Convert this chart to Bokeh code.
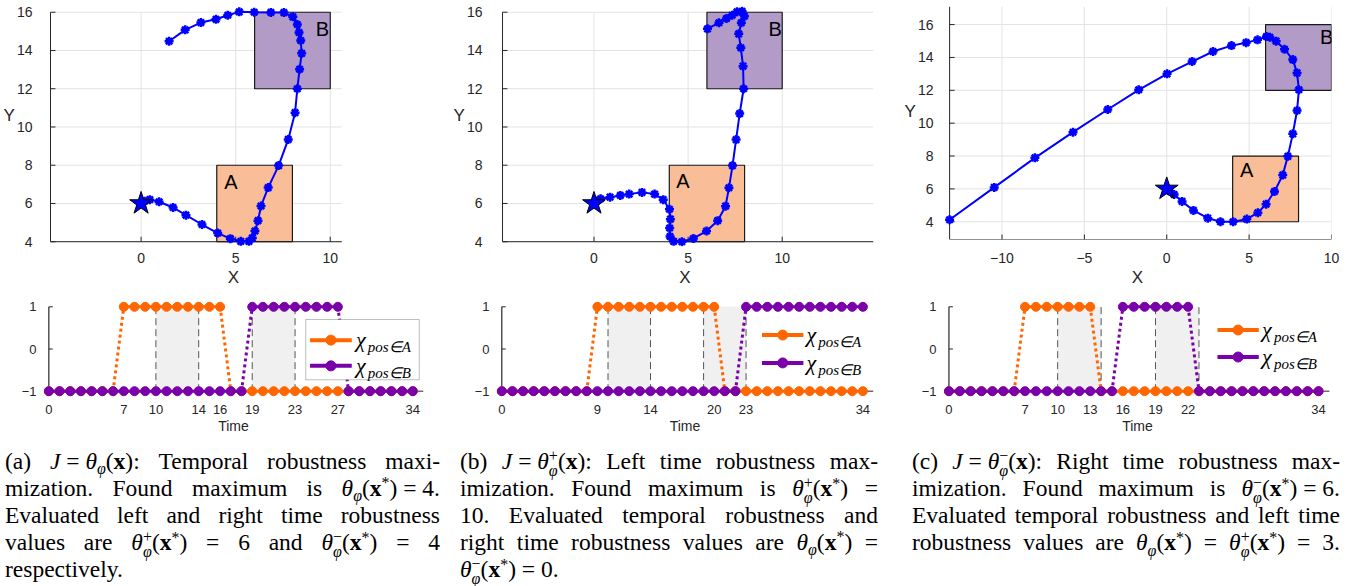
from bokeh.plotting import figure
from bokeh.layouts import row, column
from bokeh.models import Range1d, FixedTicker, Div, BoxAnnotation
from bokeh.core.properties import value
from bokeh.embed import file_html
from bokeh.resources import INLINE

# ---------------- data ----------------
TIME = list(range(35))

REGION_A = (4, 8, 4, 8)      # x0, x1, y0, y1
REGION_B = (6, 10, 12, 16)
START = (0, 6)

# (a) temporal robustness maximisation
A_X = [0, 0.18, 0.46, 0.95, 1.69, 2.37, 3.22, 4.05, 4.72, 5.27, 5.70, 5.88, 6.02, 6.18, 6.34,
       6.72, 7.27, 7.78, 8.14, 8.26, 8.38, 8.49, 8.44, 8.35, 8.26, 8.02, 7.55, 6.86, 5.98, 5.19,
       4.58, 3.96, 3.16, 2.33, 1.48]
A_Y = [6.0, 6.12, 6.20, 6.09, 5.79, 5.39, 4.90, 4.45, 4.16, 4.02, 4.02, 4.20, 4.56, 5.10, 5.87,
       6.83, 7.98, 9.35, 10.75, 12.0, 13.02, 13.85, 14.52, 14.94, 15.36, 15.76, 15.98, 15.99, 16.0,
       16.02, 15.84, 15.63, 15.46, 15.08, 14.48]
# (b) left time robustness maximisation
B_X = [0, 0.15, 0.35, 0.85, 1.40, 1.87, 2.55, 3.22, 3.68, 4.01, 4.06, 4.02, 4.04, 4.23, 4.67,
       5.28, 5.98, 6.57, 6.99, 7.17, 7.36, 7.55, 7.74, 7.95, 7.92, 7.80, 7.69, 7.83, 7.99, 7.87,
       7.60, 7.34, 7.04, 6.64, 6.03]
B_Y = [6.0, 6.12, 6.25, 6.33, 6.42, 6.49, 6.58, 6.49, 6.20, 5.70, 5.18, 4.72, 4.27, 4.02, 4.00,
       4.17, 4.56, 5.10, 5.86, 6.82, 7.98, 9.34, 10.70, 12.0, 13.18, 14.14, 14.87, 15.45, 15.79,
       16.05, 16.02, 15.84, 15.67, 15.45, 15.13]
# (c) right time robustness maximisation
C_X = [0, 0.18, 0.45, 0.93, 1.62, 2.49, 3.26, 4.03, 4.86, 5.53, 6.03, 6.54, 7.04, 7.35, 7.65,
       7.91, 8.02, 7.91, 7.65, 7.15, 6.64, 6.26, 6.05, 5.51, 4.82, 3.93, 2.81, 1.54, 0.02, -1.70,
       -3.58, -5.69, -8.00, -10.47, -13.18]
C_Y = [6.0, 5.86, 5.66, 5.24, 4.69, 4.22, 4.00, 4.00, 4.16, 4.55, 5.07, 5.84, 6.84, 7.98, 9.35,
       10.77, 12.03, 13.06, 13.87, 14.50, 14.99, 15.23, 15.27, 15.07, 14.90, 14.72, 14.36, 13.75,
       13.00, 12.03, 10.83, 9.45, 7.89, 6.09, 4.12]

CHI_A_a = [-1, -1, -1, -1, -1, -1, -1, 1, 1, 1, 1, 1, 1, 1, 1, 1, 1, -1, -1, -1, -1, -1, -1, -1,
           -1, -1, -1, -1, -1, -1, -1, -1, -1, -1, -1]
CHI_B_a = [-1, -1, -1, -1, -1, -1, -1, -1, -1, -1, -1, -1, -1, -1, -1, -1, -1, -1, -1, 1, 1, 1,
           1, 1, 1, 1, 1, 1, -1, -1, -1, -1, -1, -1, -1]
CHI_A_b = [-1, -1, -1, -1, -1, -1, -1, -1, -1, 1, 1, 1, 1, 1, 1, 1, 1, 1, 1, 1, 1, -1, -1, -1,
           -1, -1, -1, -1, -1, -1, -1, -1, -1, -1, -1]
CHI_B_b = [-1, -1, -1, -1, -1, -1, -1, -1, -1, -1, -1, -1, -1, -1, -1, -1, -1, -1, -1, -1, -1,
           -1, -1, 1, 1, 1, 1, 1, 1, 1, 1, 1, 1, 1, 1]
CHI_A_c = [-1, -1, -1, -1, -1, -1, -1, 1, 1, 1, 1, 1, 1, 1, -1, -1, -1, -1, -1, -1, -1, -1, -1,
           -1, -1, -1, -1, -1, -1, -1, -1, -1, -1, -1, -1]
CHI_B_c = [-1, -1, -1, -1, -1, -1, -1, -1, -1, -1, -1, -1, -1, -1, -1, -1, 1, 1, 1, 1, 1, 1, 1,
           -1, -1, -1, -1, -1, -1, -1, -1, -1, -1, -1, -1]

WINDOWS = [(10, 14), (19, 23)]
TICKS_a = [0, 7, 10, 14, 16, 19, 23, 27, 34]
TICKS_b = [0, 9, 14, 20, 23, 34]
TICKS_c = [0, 7, 10, 13, 16, 19, 22, 34]
T_MAX = 35

XT_ab = [0, 5, 10]
XT_c = [-10, -5, 0, 5, 10]
YT = [4, 6, 8, 10, 12, 14, 16]
CHI_Y_TICKS = [-1, 0, 1]

# ---------------- style ----------------
SANS = "Liberation Sans"
SERIF = "Liberation Serif"
AX = "#262626"
GRID = "#E3E3E3"
BLUE = "#0000FF"
ORANGE = "#FF6600"
PURPLE = "#7A00AA"
A_FILL = "#F9BD98"
B_FILL = "#B39BC8"


def style_axis(ax, tick_size="14px", label_size="17px"):
    ax.axis_line_color = None          # axis lines are drawn at the data limits below
    ax.major_tick_line_color = None
    ax.minor_tick_line_color = None
    ax.major_label_text_font = SANS
    ax.major_label_text_font_size = tick_size
    ax.major_label_text_color = AX
    ax.axis_label_text_font = SANS
    ax.axis_label_text_font_style = "normal"
    ax.axis_label_text_font_size = label_size
    ax.axis_label_text_color = AX


def traj_fig(tx, ty, cfg):
    xr, yr = cfg["xr"], cfg["yr"]
    fw = cfg["w"] - cfg["l"] - cfg["r"]
    fh = cfg["h"] - cfg["t"] - cfg["b"]
    sx = fw / (xr[1] - xr[0])
    sy = fh / (yr[1] - yr[0])
    p = figure(width=cfg["w"], height=cfg["h"], x_range=Range1d(*xr), y_range=Range1d(*yr),
               output_backend="svg", toolbar_location=None, title=None,
               min_border_left=cfg["l"], min_border_right=cfg["r"], min_border_top=cfg["t"],
               min_border_bottom=cfg["b"])
    p.outline_line_color = None
    p.xgrid.visible = False
    p.ygrid.visible = False
    xt, yt = cfg["xt"], YT
    gx0, gx1 = cfg["gx"]
    gy0, gy1 = cfg["gy"]
    # grid bounded to the axes box
    p.segment(x0=xt, y0=[gy0] * len(xt), x1=xt, y1=[gy1] * len(xt), line_color=GRID,
              line_width=1, level="underlay")
    p.segment(x0=[gx0] * len(yt), y0=yt, x1=[gx1] * len(yt), y1=yt, line_color=GRID,
              line_width=1, level="underlay")
    for reg, fc in ((REGION_A, A_FILL), (REGION_B, B_FILL)):
        p.quad(left=[reg[0]], right=[reg[1]], bottom=[reg[2]], top=[reg[3]], fill_color=fc,
               fill_alpha=1.0, line_color="#1A1A1A", line_width=1.2)
    p.text(x=[cfg["A_lbl"][0], cfg["B_lbl"][0]], y=[cfg["A_lbl"][1], cfg["B_lbl"][1]],
           text=["A", "B"], text_font=value(SANS), text_font_size="20px", text_color="black",
           text_align="center", text_baseline="middle")
    # axis lines + inward ticks at the axes limits
    p.segment(x0=[gx0], y0=[gy0], x1=[gx1], y1=[gy0], line_color=AX, line_width=1)
    p.segment(x0=xt, y0=[gy0] * len(xt), x1=xt, y1=[gy0 + 5 / sy] * len(xt),
              line_color=AX, line_width=1)
    p.segment(x0=[gx0], y0=[gy0], x1=[gx0], y1=[gy1], line_color=AX, line_width=1)
    p.segment(x0=[gx0] * len(yt), y0=yt, x1=[gx0 + 5 / sx] * len(yt), y1=yt,
              line_color=AX, line_width=1)
    p.line(tx, ty, line_color=BLUE, line_width=2)
    p.scatter(tx, ty, marker="asterisk", size=9, line_color=BLUE, line_width=2.5)
    p.scatter([START[0]], [START[1]], marker="star", size=24, fill_color=BLUE,
              line_color="black", line_width=1)
    p.xaxis.ticker = FixedTicker(ticks=xt)
    p.yaxis.ticker = FixedTicker(ticks=yt)
    p.xaxis.axis_label = "X"
    p.yaxis.axis_label = "Y\n"
    style_axis(p.xaxis[0])
    style_axis(p.yaxis[0])
    p.xaxis.major_label_standoff = cfg["xls"]
    p.xaxis.axis_label_standoff = 2
    p.yaxis.major_label_standoff = cfg["yls"]
    p.yaxis.axis_label_standoff = -1
    try:
        p.yaxis.axis_label_orientation = "horizontal"
    except Exception:
        pass
    return p


def draw_series(p, t, v, color):
    sx0, sy0, sx1, sy1 = [], [], [], []
    dx0, dy0, dx1, dy1 = [], [], [], []
    for i in range(len(t) - 1):
        if v[i] == v[i + 1]:
            sx0.append(t[i]); sy0.append(v[i]); sx1.append(t[i + 1]); sy1.append(v[i + 1])
        else:
            dx0.append(t[i]); dy0.append(v[i]); dx1.append(t[i + 1]); dy1.append(v[i + 1])
    p.segment(x0=sx0, y0=sy0, x1=sx1, y1=sy1, line_color=color, line_width=3)
    p.segment(x0=dx0, y0=dy0, x1=dx1, y1=dy1, line_color=color, line_width=3, line_dash="3 3")
    p.scatter(t, v, marker="circle", size=9, fill_color=color, line_color=color)


def time_fig(chiA, chiB, ticks, cfg):
    xr, yr = cfg["xr"], (-1.15, 1.15)
    fw = cfg["w"] - cfg["l"] - cfg["r"]
    sx = fw / (xr[1] - xr[0])
    p = figure(width=cfg["w"], height=152, x_range=Range1d(*xr), y_range=Range1d(*yr),
               output_backend="svg", toolbar_location=None, title=None,
               min_border_left=cfg["l"], min_border_right=cfg["r"], min_border_top=4,
               min_border_bottom=51)
    p.outline_line_color = None
    p.xgrid.visible = False
    p.ygrid.visible = False
    p.quad(left=[w[0] for w in WINDOWS], right=[w[1] for w in WINDOWS], bottom=-1, top=1,
           fill_color="#F0F0F0", line_color=None, level="underlay")
    # axes lines at t=0 and chi=-1
    p.segment(x0=[0], y0=[-1], x1=[T_MAX], y1=[-1], line_color=AX, line_width=1,
              level="underlay")
    p.segment(x0=[0], y0=[-1], x1=[0], y1=[1], line_color=AX, line_width=1.2)
    p.segment(x0=[0] * 3, y0=CHI_Y_TICKS, x1=[4 / sx] * 3, y1=CHI_Y_TICKS, line_color=AX,
              line_width=1)
    edges = [e for w in WINDOWS for e in w]
    p.segment(x0=edges, y0=[-1] * len(edges), x1=edges, y1=[1] * len(edges),
              line_color="#555555", line_width=1, line_dash="7 4")
    draw_series(p, TIME, chiA, ORANGE)
    draw_series(p, TIME, chiB, PURPLE)
    # legend
    if cfg.get("box"):
        l, r, b, t = cfg["box"]
        p.add_layout(BoxAnnotation(left=l, right=r, bottom=b, top=t, fill_color="white",
                                   fill_alpha=1.0, line_color=AX, line_width=1,
                                   level="annotation"))
    lx0, lx1, tx = cfg["leg_x"]
    for yy, col, sub in ((cfg["leg_y"][0], ORANGE, "pos∈A"), (cfg["leg_y"][1], PURPLE, "pos∈B")):
        p.line([lx0, lx1], [yy, yy], line_color=col, line_width=4, level="overlay")
        p.scatter([(lx0 + lx1) / 2], [yy], marker="circle", size=10, fill_color=col,
                  line_color=col, level="overlay")
        p.text(x=[tx], y=[yy + 0.02], text=["χ"], text_font=value(SERIF),
               text_font_style="italic", text_font_size="22px", text_align="left",
               text_baseline="middle", text_color="black", level="overlay")
        p.text(x=[tx + 1.1], y=[yy - 0.16], text=[sub], text_font=value(SERIF),
               text_font_style="italic", text_font_size="15px", text_align="left",
               text_baseline="middle", text_color="black", level="overlay")
    p.xaxis.ticker = FixedTicker(ticks=ticks)
    p.yaxis.ticker = FixedTicker(ticks=CHI_Y_TICKS)
    p.xaxis.axis_label = "Time"
    style_axis(p.xaxis[0], tick_size="13px", label_size="14px")
    style_axis(p.yaxis[0], tick_size="13px", label_size="14px")
    p.xaxis.major_label_standoff = 1
    p.xaxis.axis_label_standoff = 1
    p.yaxis.major_label_standoff = 1
    return p


# ---------------- captions ----------------
MS = "\u2005"   # math spacing around relations (not stretched by justification)


def th(sup=None):
    if sup is None:
        return ('<i>θ</i><span style="font-size:0.68em;position:relative;top:0.32em">'
                '<i>φ</i></span>')
    return ('<i>θ</i><span style="display:inline-block;vertical-align:-0.42em;font-size:0.68em;'
            'line-height:0.95em;text-align:left">'
            '<span style="display:block">' + sup + '</span>'
            '<span style="display:block"><i>φ</i></span></span>')


X = '<b>x</b>'
XS = '<b>x</b><span style="font-size:0.68em;position:relative;top:-0.5em">*</span>'
EQ = MS + "=" + MS


def caption(lines, width, pad, last_justify=False):
    out = []
    for i, ln in enumerate(lines):
        last = i == len(lines) - 1
        tal = "justify" if (not last or last_justify) else "left"
        out.append('<div style="height:27px;line-height:27px;text-align:justify;'
                   'text-align-last:%s">%s</div>' % (tal, ln))
    return ('<div style="font-family:\'Liberation Serif\';font-size:23.5px;color:#000;'
            'width:%dpx;margin-left:%dpx">%s</div>' % (width, pad, "".join(out)))


CAP_A = [
    "(a) <i>J</i>" + EQ + th() + "(" + X + "): Temporal robustness maxi-",
    "mization. Found maximum is " + th() + "(" + XS + ")" + EQ + "4.",
    "Evaluated left and right time robustness",
    "values are " + th("+") + "(" + XS + ") = 6 and " + th("−") + "(" + XS + ") = 4",
    "respectively.",
]
CAP_B = [
    "(b) <i>J</i>" + EQ + th("+") + "(" + X + "): Left time robustness max-",
    "imization. Found maximum is " + th("+") + "(" + XS + ") =",
    "10. Evaluated temporal robustness and",
    "right time robustness values are " + th() + "(" + XS + ") =",
    th("−") + "(" + XS + ")" + EQ + "0.",
]
CAP_C = [
    "(c) <i>J</i>" + EQ + th("−") + "(" + X + "): Right time robustness max-",
    "imization. Found maximum is " + th("−") + "(" + XS + ")" + EQ + "6.",
    "Evaluated temporal robustness and left time",
    "robustness values are " + th() + "(" + XS + ") = " + th("+") + "(" + XS + ") = 3.",
]

# ---------------- build ----------------
# top and bottom plots of a column share the same frame (left offset, width)
cfg_a = dict(w=450, h=296, l=38, r=27, t=6, b=50, xr=(-5.16, 14.93), yr=(3.75, 16.30),
             xt=XT_ab, gx=(-4.79, 10.61), gy=(4, 16), A_lbl=(4.75, 7.1), B_lbl=(9.58, 15.1),
             xls=0, yls=5)
cfg_b = dict(w=450, h=296, l=41, r=27, t=6, b=50, xr=(-5.18, 14.85), yr=(3.75, 16.30),
             xt=XT_ab, gx=(-4.86, 14.85), gy=(4, 16), A_lbl=(4.72, 7.15), B_lbl=(9.62, 15.13),
             xls=0, yls=8)
cfg_c = dict(w=460, h=296, l=43, r=29, t=6, b=57, xr=(-13.55, 10.0), yr=(2.92, 17.1),
             xt=XT_c, gx=(-13.18, 10.0), gy=(2.92, 17.1), A_lbl=(4.85, 7.12), B_lbl=(9.7, 15.27),
             xls=7, yls=4)

top_a = traj_fig(A_X, A_Y, cfg_a)
top_b = traj_fig(B_X, B_Y, cfg_b)
top_c = traj_fig(C_X, C_Y, cfg_c)

bot_a = time_fig(CHI_A_a, CHI_B_a, TICKS_a,
                 dict(w=450, l=38, r=27, xr=(-0.5, 35.0), box=(24, 34.6, -0.73, 0.70),
                      leg_x=(24.4, 28.3, 28.7), leg_y=(0.21, -0.40)))
bot_b = time_fig(CHI_A_b, CHI_B_b, TICKS_b,
                 dict(w=450, l=41, r=27, xr=(-0.5, 35.0), box=None,
                      leg_x=(24.5, 28.4, 28.7), leg_y=(0.33, -0.33)))
bot_c = time_fig(CHI_A_c, CHI_B_c, TICKS_c,
                 dict(w=460, l=43, r=29, xr=(-0.5, 35.19), box=None,
                      leg_x=(24.7, 28.5, 28.8), leg_y=(0.45, -0.19)))

div_a = Div(text=caption(CAP_A, 435, 5), width=450, height=135, margin=(0, 0, 0, 0))
div_b = Div(text=caption(CAP_B, 418, 10), width=450, height=135, margin=(0, 0, 0, 0))
div_c = Div(text=caption(CAP_C, 428, 12, last_justify=True), width=460, height=135,
            margin=(0, 0, 0, 0))

layout = row(column(top_a, bot_a, div_a), column(top_b, bot_b, div_b),
             column(top_c, bot_c, div_c))

open("out.html", "w").write(file_html(layout, INLINE))
